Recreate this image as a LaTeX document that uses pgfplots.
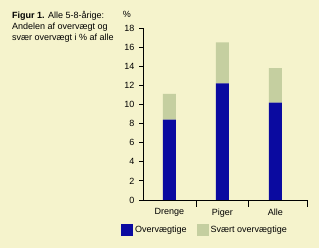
\documentclass[border=0pt]{standalone}
\usepackage{pgfplots}
\pgfplotsset{compat=1.18}
\usepackage{fontspec}
\setmainfont{Liberation Sans}
\definecolor{bg}{HTML}{F5F3CC}
\definecolor{blu}{HTML}{0A0AA0}
\definecolor{grn}{HTML}{C5CFA0}
\begin{document}
\begin{tikzpicture}[x=1pt,y=1pt]
\fill[bg] (0,0) rectangle (319,248);
\node[anchor=north west,align=left,font=\fontsize{9}{11}\selectfont,inner sep=0pt] at (12,237) {\textbf{Figur 1.} Alle 5-8-årige:\\Andelen af overvægt og\\svær overvægt i \% af alle};
\node[anchor=north,font=\fontsize{9}{10}\selectfont,inner sep=0pt] at (127,237) {\%};
\begin{axis}[
  at={(143pt,48pt)}, anchor=south west,
  scale only axis, width=164pt, height=172pt,
  xmin=-0.5, xmax=2.6, ymin=0, ymax=18,
  axis x line=bottom, axis y line=left,
  axis line style={-, line width=0.8pt},
  ytick={0,2,...,18},
  tick style={line width=0.8pt, black},
  tick align=outside, major tick length=4pt, minor tick length=7pt,
  xtick={0,1,2}, xticklabels={Drenge,Piger,Alle},
  major x tick style={draw=none},
  minor xtick={0.5,1.5,2.6},
  tick label style={font=\fontsize{9}{10}\selectfont},
  /pgf/number format/assume math mode=true,
  yticklabel style={xshift=-1pt},
  xticklabel style={yshift=-1pt},
  ybar stacked, bar width=13pt,
  legend columns=2,
  legend style={at={(-0.134,-0.14)}, anchor=north west, draw=none, fill=none, inner sep=0pt,
    font=\fontsize{9}{10}\selectfont, /tikz/every even column/.append style={column sep=8pt}},
  legend image code/.code={\fill[#1] (0pt,-6pt) rectangle (12pt,6pt);},
]
\addplot[fill=blu, draw=none] coordinates {(0,8.4) (1,12.2) (2,10.2)};
\addplot[fill=grn, draw=none] coordinates {(0,2.7) (1,4.3) (2,3.6)};
\legend{Overvægtige, Svært overvægtige}
\end{axis}
\end{tikzpicture}
\end{document}
